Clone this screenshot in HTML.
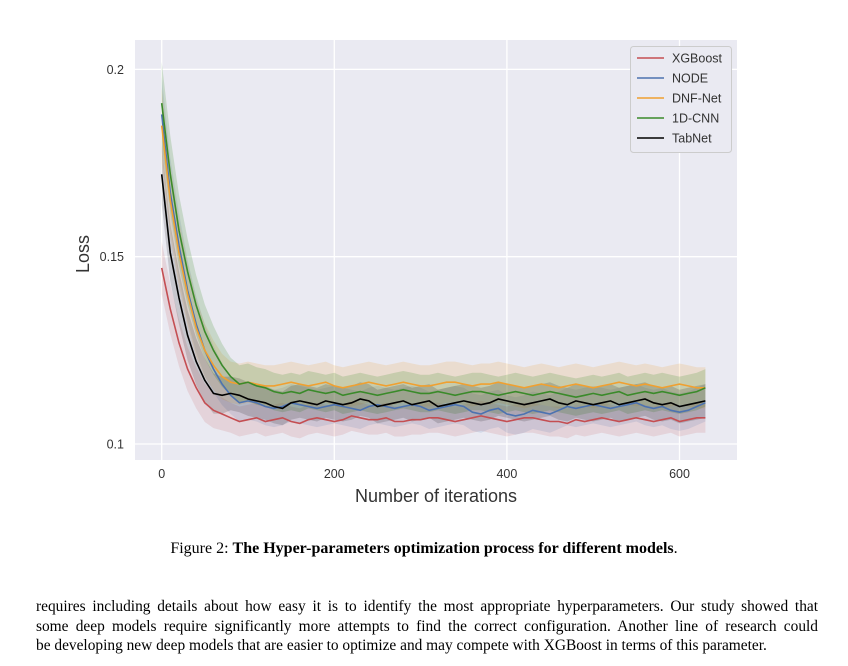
<!DOCTYPE html>
<html><head><meta charset="utf-8">
<style>
body{margin:0;background:#fff;width:848px;height:666px;overflow:hidden;font-family:"Liberation Sans",sans-serif}
#chart{position:absolute;left:0;top:0}
.cap{position:absolute;top:540px;left:0;width:848px;text-align:center;font:16px "Liberation Serif",serif;color:#000}
.para{position:absolute;left:36px;top:597px;width:782px;font:15.4px/19.5px "Liberation Serif",serif;color:#000}
.para div{text-align:justify;text-align-last:justify;white-space:nowrap}
.para div.last{text-align-last:left}
</style></head><body>
<svg id="chart" width="848" height="520"></svg>
<div class="cap">Figure 2: <b>The Hyper-parameters optimization process for different models</b>.</div>
<div class="para"><div>requires including details about how easy it is to identify the most appropriate hyperparameters. Our study showed that</div><div>some deep models require significantly more attempts to find the correct configuration. Another line of research could</div><div class="last">be developing new deep models that are easier to optimize and may compete with XGBoost in terms of this parameter.</div></div>
<script>
const xTicks=[0,200,400,600];
const yTicks=[0.1,0.15,0.2];
const yTickLabels=["0.1","0.15","0.2"];
const seriesNames=["XGBoost","NODE","DNF-Net","1D-CNN","TabNet"];
const step=10;
const xgb=[0.147,0.136,0.127,0.120,0.115,0.111,0.109,0.108,0.107,0.106,0.1065,0.107,0.106,0.1065,0.107,0.106,0.1055,0.1065,0.107,0.1065,0.106,0.1065,0.1075,0.107,0.1065,0.1065,0.107,0.106,0.106,0.1065,0.1065,0.107,0.107,0.1065,0.106,0.1065,0.107,0.1075,0.107,0.1065,0.106,0.1065,0.107,0.107,0.1065,0.106,0.106,0.1055,0.1065,0.106,0.1065,0.107,0.1065,0.106,0.1065,0.107,0.1065,0.106,0.1065,0.107,0.106,0.1065,0.107,0.107];
const node=[0.188,0.167,0.153,0.141,0.132,0.125,0.120,0.116,0.113,0.111,0.1115,0.111,0.110,0.1095,0.110,0.111,0.1105,0.110,0.1095,0.110,0.1105,0.110,0.1095,0.109,0.110,0.1105,0.110,0.1095,0.110,0.1105,0.110,0.109,0.1095,0.110,0.1105,0.110,0.1085,0.108,0.109,0.1095,0.108,0.1075,0.108,0.109,0.1085,0.108,0.109,0.110,0.1095,0.110,0.1105,0.110,0.1095,0.110,0.1105,0.111,0.110,0.1095,0.110,0.109,0.1085,0.109,0.110,0.111];
const dnf=[0.185,0.165,0.151,0.140,0.131,0.125,0.121,0.118,0.1165,0.116,0.1165,0.116,0.1155,0.1155,0.116,0.1165,0.116,0.1155,0.116,0.1165,0.1155,0.115,0.1155,0.116,0.1165,0.116,0.1155,0.116,0.1165,0.116,0.1155,0.1155,0.116,0.1165,0.1165,0.116,0.1155,0.116,0.116,0.1165,0.116,0.1155,0.115,0.1155,0.116,0.1155,0.115,0.1155,0.116,0.1155,0.115,0.1155,0.116,0.1165,0.116,0.1155,0.116,0.1155,0.115,0.1155,0.116,0.1155,0.115,0.115];
const cnn=[0.191,0.172,0.157,0.146,0.137,0.130,0.125,0.121,0.118,0.116,0.1165,0.1155,0.115,0.114,0.1135,0.114,0.1135,0.1145,0.114,0.1135,0.114,0.113,0.1135,0.114,0.1135,0.113,0.1135,0.114,0.1145,0.114,0.1135,0.1135,0.114,0.1135,0.113,0.1135,0.114,0.114,0.1135,0.113,0.1135,0.114,0.1135,0.113,0.1135,0.114,0.1135,0.113,0.1125,0.113,0.1135,0.113,0.1135,0.114,0.113,0.1135,0.114,0.1135,0.114,0.1135,0.113,0.1135,0.114,0.115];
const tabnet=[0.172,0.151,0.139,0.129,0.122,0.117,0.1135,0.113,0.1135,0.113,0.112,0.1115,0.111,0.110,0.1095,0.111,0.1115,0.111,0.1105,0.1115,0.111,0.1105,0.111,0.112,0.1115,0.110,0.1105,0.111,0.1115,0.1105,0.111,0.1115,0.110,0.1105,0.111,0.1115,0.111,0.1105,0.111,0.112,0.1115,0.111,0.1105,0.111,0.1115,0.112,0.111,0.1105,0.1115,0.111,0.1105,0.111,0.1115,0.1105,0.111,0.1115,0.112,0.111,0.1105,0.111,0.110,0.1105,0.111,0.1115];
const bandStart=[0.007,0.010,0.010,0.011,0.008];
const bandEnd=[0.004,0.005,0.0055,0.005,0.0045];
const allSeries=[xgb,node,dnf,cnn,tabnet];
const colors=["#c44e52","#4c72b0","#f0a030","#3a8a2a","#000000"];
const fillOp=[0.15,0.15,0.18,0.2,0.15];

const L=135,R=737,T=40,B=460;
const xs=v=>161.7+(v/200)*172.6;
const ys=v=>444-(v-0.1)/0.05*187.3;
const NS="http://www.w3.org/2000/svg";
const svg=document.getElementById('chart');
function mk(t,a,p){const e=document.createElementNS(NS,t);for(const k in a)e.setAttribute(k,a[k]);(p||svg).appendChild(e);return e;}
const bg=mk('rect',{x:L,y:T,width:R-L,height:B-T,fill:'#eaeaf2'});


xTicks.forEach(t=>{
 const g=mk('line',{x1:xs(t),x2:xs(t),y1:T,y2:B,stroke:'#fff','stroke-width':1.3});
 
 
 const l=mk('text',{x:xs(t),y:478,'text-anchor':'middle','font-size':12.5,fill:'#333'});l.textContent=t;
 
 
});
yTicks.forEach((t,i)=>{
 const g=mk('line',{x1:L,x2:R,y1:ys(t),y2:ys(t),stroke:'#fff','stroke-width':1.3});
 
 
 const l=mk('text',{x:124,y:ys(t)+4.5,'text-anchor':'end','font-size':12.5,fill:'#333'});l.textContent=yTickLabels[i];
 
 
});
allSeries.forEach((s,si)=>{
 const hw=i=>{const f=Math.min(i/8,1);return bandStart[si]*(1-f)+bandEnd[si]*f;};
 let up=[],dn=[];
 s.forEach((v,i)=>{up.push(xs(i*step).toFixed(1)+','+ys(v+hw(i)).toFixed(1));dn.unshift(xs(i*step).toFixed(1)+','+ys(v-hw(i)).toFixed(1));});
 const b=mk('polygon',{points:up.concat(dn).join(' '),fill:colors[si],'fill-opacity':fillOp[si]});
 
 
});
allSeries.forEach((s,si)=>{
 const pts=s.map((v,i)=>xs(i*step).toFixed(1)+','+ys(v).toFixed(1)).join(' ');
 const p=mk('polyline',{points:pts,fill:'none',stroke:colors[si],'stroke-width':1.6});
 
 
});
const lg=mk('g',{});


mk('rect',{x:630.5,y:46.5,width:101,height:106,rx:3,fill:'#eaeaf2',stroke:'#ccc'},lg);
seriesNames.forEach((n,i)=>{
 const y=58+i*20;
 const ln=mk('line',{x1:637,x2:664,y1:y,y2:y,stroke:colors[i],'stroke-width':1.6},lg);
 
 
 const t=mk('text',{x:672,y:y+4.5,'font-size':12.5,fill:'#333'},lg);t.textContent=n;
 
 
});
const yt=mk('text',{x:0,y:0,'font-size':18,fill:'#333','text-anchor':'middle',transform:'translate(89,254) rotate(-90)'});yt.textContent='Loss';


const xt=mk('text',{x:436,y:502,'font-size':18,fill:'#333','text-anchor':'middle'});xt.textContent='Number of iterations';


</script>
</body></html>
